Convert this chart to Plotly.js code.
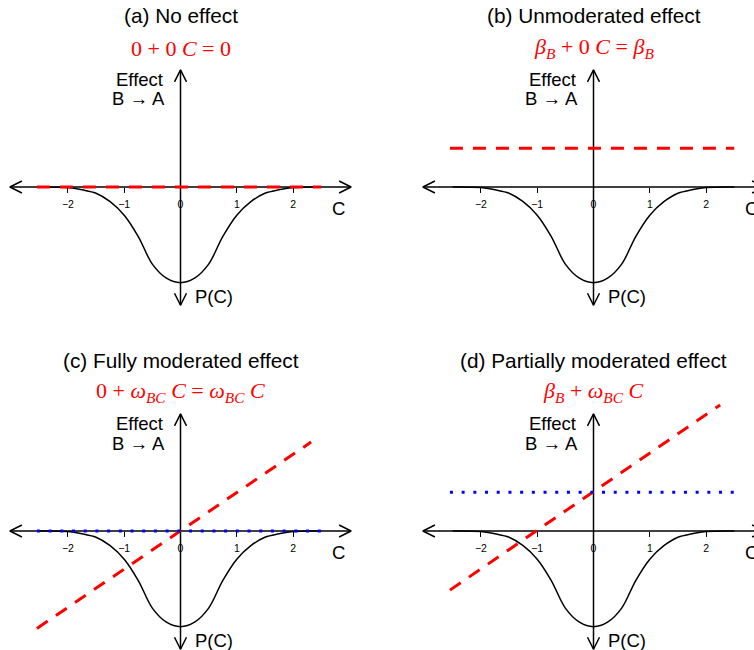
<!DOCTYPE html>
<html>
<head>
<meta charset="utf-8">
<script src="https://cdn.plot.ly/plotly-3.0.1.min.js"></script>
<style>html,body{margin:0;padding:0;background:#fff;}</style>
</head>
<body>
<div id="chart" style="width:754px;height:650px;"></div>
<script>
// ---- data ----
const cGrid   = [-2.5, -2, -1.75, -1.5, -1.25, -1, -0.75, -0.5, -0.25, 0, 0.25, 0.5, 0.75, 1, 1.25, 1.5, 1.75, 2, 2.5];
const density = [0, -0.01, -0.05, -0.11, -0.26, -0.50, -0.88, -1.37, -1.62, -1.70, -1.62, -1.37, -0.88, -0.50, -0.26, -0.11, -0.05, -0.01, 0];
const tickVals = [-2, -1, 0, 1, 2];
const axisXExtent = [-3.03, 3.03];
const axisYExtent = [-2.1, 2.08];
const betaB = 0.69;
const flatC = [-2.55, 2.5];
const redA_y = [0, 0];
const redB_y = [betaB, betaB];
const redC_x = [-2.55, 2.32];
const redC_y = [-1.73, 1.58];
const blueC_y = [0, 0];
const redD_x = [-2.55, 2.25];
const redD_y = [-1.05, 2.24];
const blueD_y = [betaB, betaB];
const titles = ['(a) No effect', '(b) Unmoderated effect', '(c) Fully moderated effect', '(d) Partially moderated effect'];
const formulas = [
  '0 + 0 <i>C</i> = 0',
  '<i>β</i><sub><i>B</i></sub> + 0 <i>C</i> = <i>β</i><sub><i>B</i></sub>',
  '0 + <i>ω</i><sub><i>BC</i></sub> <i>C</i> = <i>ω</i><sub><i>BC</i></sub> <i>C</i>',
  '<i>β</i><sub><i>B</i></sub> + <i>ω</i><sub><i>BC</i></sub> <i>C</i>'
];

// ---- layout geometry (pixels) ----
const W = 754, H = 650, S = 56.3;
const panels = [
  {ox: 180.5, oy: 187, px0: 0,   px1: 377, py0: 0,   py1: 325},
  {ox: 593.5, oy: 187, px0: 377, px1: 754, py0: 0,   py1: 325},
  {ox: 180.5, oy: 531, px0: 0,   px1: 377, py0: 325, py1: 650},
  {ox: 593.5, oy: 531, px0: 377, px1: 754, py0: 325, py1: 650}
];
const sansFont = 'Liberation Sans, Arial, Helvetica, sans-serif';
const serifFont = 'Liberation Serif, Times New Roman, serif';

const traces = [];
const layout = {
  width: W, height: H, autosize: false,
  margin: {l: 0, r: 0, t: 0, b: 0},
  paper_bgcolor: '#fff', plot_bgcolor: 'rgba(0,0,0,0)',
  showlegend: false,
  annotations: []
};

const redLines = [
  {x: flatC, y: redA_y},
  {x: flatC, y: redB_y},
  {x: redC_x, y: redC_y},
  {x: redD_x, y: redD_y}
];
const blueLines = [null, null, {x: flatC, y: blueC_y}, {x: flatC, y: blueD_y}];

const headBack = 12 / S, headSide = 6 / S;

panels.forEach((p, i) => {
  const k = i === 0 ? '' : String(i + 1);
  const xa = 'x' + k, ya = 'y' + k;
  layout['xaxis' + k] = {
    domain: [p.px0 / W, p.px1 / W],
    range: [(p.px0 - p.ox) / S, (p.px1 - p.ox) / S],
    anchor: 'free', position: 1 - p.oy / H,
    showgrid: false, zeroline: false, showline: false,
    tickmode: 'array', tickvals: tickVals,
    ticks: 'outside', ticklen: 5, tickwidth: 1, tickcolor: '#000',
    ticklabelstandoff: 2,
    tickfont: {family: sansFont, size: 10.5, color: '#000'},
    fixedrange: true
  };
  layout['yaxis' + k] = {
    domain: [1 - p.py1 / H, 1 - p.py0 / H],
    range: [(p.oy - p.py1) / S, (p.oy - p.py0) / S],
    anchor: xa, visible: false, fixedrange: true
  };
  const blk = {color: '#000', width: 1.5};
  // axes lines
  traces.push({x: axisXExtent, y: [0, 0], xaxis: xa, yaxis: ya, mode: 'lines', line: blk, hoverinfo: 'skip'});
  traces.push({x: [0, 0], y: axisYExtent, xaxis: xa, yaxis: ya, mode: 'lines', line: blk, hoverinfo: 'skip'});
  // arrowheads
  const xl = axisXExtent[0], xr = axisXExtent[1], yb = axisYExtent[0], yt = axisYExtent[1];
  traces.push({x: [xl + headBack, xl, xl + headBack], y: [headSide, 0, -headSide], xaxis: xa, yaxis: ya, mode: 'lines', line: blk, hoverinfo: 'skip'});
  traces.push({x: [xr - headBack, xr, xr - headBack], y: [headSide, 0, -headSide], xaxis: xa, yaxis: ya, mode: 'lines', line: blk, hoverinfo: 'skip'});
  traces.push({x: [-headSide, 0, headSide], y: [yt - headBack, yt, yt - headBack], xaxis: xa, yaxis: ya, mode: 'lines', line: blk, hoverinfo: 'skip'});
  traces.push({x: [-headSide, 0, headSide], y: [yb + headBack, yb, yb + headBack], xaxis: xa, yaxis: ya, mode: 'lines', line: blk, hoverinfo: 'skip'});
  // density of C
  traces.push({x: cGrid, y: density, xaxis: xa, yaxis: ya, mode: 'lines', line: {color: '#000', width: 1.5, shape: 'spline', smoothing: 1}, hoverinfo: 'skip'});
  // red effect line
  traces.push({x: redLines[i].x, y: redLines[i].y, xaxis: xa, yaxis: ya, mode: 'lines', line: {color: '#ff0000', width: 3, dash: '13px,10px'}, hoverinfo: 'skip'});
  if (blueLines[i]) {
    traces.push({x: blueLines[i].x, y: blueLines[i].y, xaxis: xa, yaxis: ya, mode: 'lines', line: {color: '#0000ff', width: 3, dash: '3px,8.7px'}, hoverinfo: 'skip'});
  }
  // annotations (pixel positions relative to panel origin)
  const ann = (text, dx, dy, size, family, color, xanchor) => ({
    text: text, xref: 'paper', yref: 'paper',
    x: (p.ox + dx) / W, y: 1 - (p.oy + dy) / H,
    xanchor: xanchor || 'center', yanchor: 'middle', showarrow: false,
    font: {family: family, size: size, color: color}
  });
  layout.annotations.push(ann(titles[i], 0, -171, 20.8, sansFont, '#000'));
  layout.annotations.push(ann(formulas[i], 0, -139, 22, serifFont, '#ff0000'));
  layout.annotations.push(ann('Effect', -16, -108, 18.5, sansFont, '#000', 'right'));
  layout.annotations.push(ann('B → A', -14, -88, 18.5, sansFont, '#000', 'right'));
  layout.annotations.push(ann('P(C)', 33.5, 109, 18.5, sansFont, '#000'));
  layout.annotations.push(ann('C', 158, 21, 18.5, sansFont, '#000'));
});

Plotly.newPlot('chart', traces, layout, {staticPlot: true, displayModeBar: false});
</script>
</body>
</html>
